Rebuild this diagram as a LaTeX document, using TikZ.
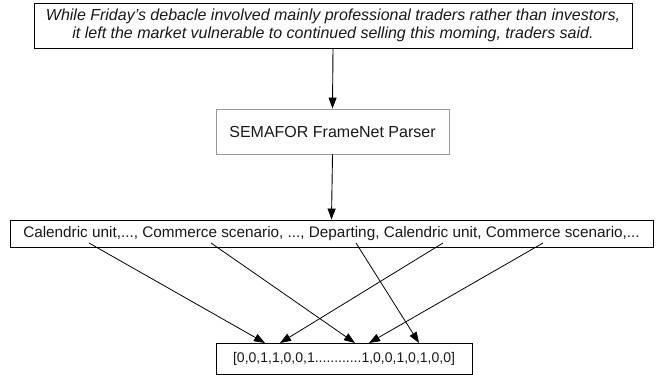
\documentclass[tikz,border=0pt]{standalone}
\usepackage{fontspec}
\setmainfont{Liberation Sans}
\usetikzlibrary{arrows.meta,shadows}
\begin{document}
\begin{tikzpicture}[x=1pt,y=-1pt,
  txt/.style={text=black!90,font=\fontsize{15.3}{18}\selectfont},
  shadowbox/.style={draw=black,line width=0.9pt,fill=white,inner sep=0pt,
    drop shadow={shadow xshift=1.1pt,shadow yshift=-1.1pt,opacity=1,fill=black!70}},
  graybox/.style={draw=black!40,line width=0.9pt,fill=white,inner sep=0pt},
  flow/.style={line width=0.9pt,-{Triangle[length=11pt,width=8pt]}},
  link/.style={line width=0.8pt,-{Triangle[length=11pt,width=8pt]}}]
\useasboundingbox (0,0) rectangle (657,375);

\node[shadowbox,minimum width=598pt,minimum height=45pt,txt,align=center,font=\fontsize{16}{18.5}\selectfont\itshape]
  (sent) at (333,25.5) {While Friday's debacle involved mainly professional traders rather than investors,\\it left the market vulnerable to continued selling this moming, traders said.};

\node[graybox,minimum width=233pt,minimum height=45pt,txt,font=\fontsize{16}{19}\selectfont]
  (parser) at (332.5,131.5) {SEMAFOR FrameNet Parser};

\node[shadowbox,minimum width=643pt,minimum height=27pt,txt]
  (frames) at (331.5,233.5) {Calendric unit,..., Commerce scenario, ..., Departing, Calendric unit, Commerce scenario,...};

\node[draw=black,line width=0.9pt,fill=white,inner sep=0pt,minimum width=256pt,minimum height=31pt,txt,font=\fontsize{14}{17}\selectfont]
  (vec) at (344,358.5) {[0,0,1,1,0,0,1............1,0,0,1,0,1,0,0]};

\draw[flow] (sent.south) -- (parser.north);
\draw[flow] (parser.south) -- (frames.north);

\coordinate (s1) at (89,243);
\coordinate (s2) at (211,243);
\coordinate (s3) at (356,243);
\coordinate (s4) at (443,243);
\coordinate (s5) at (543,243);
\coordinate (e1) at (265,343);
\coordinate (e2) at (355,343);
\coordinate (e3) at (419,343);
\coordinate (e4) at (280,343);
\coordinate (e5) at (369,343);

\draw[link] (s1) -- (e1);
\draw[link] (s2) -- (e2);
\draw[link] (s3) -- (e3);
\draw[link] (s4) -- (e4);
\draw[link] (s5) -- (e5);
\end{tikzpicture}
\end{document}
